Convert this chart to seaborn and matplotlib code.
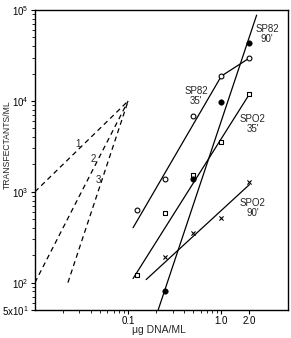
import matplotlib
matplotlib.use("Agg")
import matplotlib.pyplot as plt
import matplotlib.ticker as mticker
import seaborn as sns

# --- DATI ---
# dosi di DNA (ug/ml)
dose = [0.125, 0.25, 0.5, 1.0, 2.0]
dose_90 = [0.25, 0.5, 1.0, 2.0]

# punti sperimentali
sp82_35 = [634, 1390, 6840, 18800, 29700]
sp02_35 = [122, 587, 1540, 3540, 11900]
sp02_90 = [193, 354, 517, 1290]
sp82_90 = [80, 1390, 9750, 43400]

# rette tracciate a mano (estremi)
fit_sp82_35_x = [0.113, 1.0, 2.0]
fit_sp82_35_y = [402, 18800, 29700]
fit_sp02_35_x = [0.113, 2.0]
fit_sp02_35_y = [111, 11900]
fit_sp02_90_x = [0.156, 2.0]
fit_sp02_90_y = [108, 1200]
fit_sp82_90_x = [0.21, 2.39]
fit_sp82_90_y = [50, 88100]

# curve tratteggiate 1, 2, 3
curve1_x = [0.01, 0.1]
curve1_y = [1000, 10000]
curve2_x = [0.01, 0.1]
curve2_y = [100, 10000]
curve3_x = [0.0226, 0.1]
curve3_y = [100, 10000]

# etichette
y_ticks = [50, 100, 1e3, 1e4, 1e5]
y_labels = [r"5x10$^{1}$", r"10$^{2}$", r"10$^{3}$", r"10$^{4}$", r"10$^{5}$"]
x_ticks = [0.1, 1.0, 2.0]
x_labels = ["0.1", "1.0", "2.0"]


def main():
    sns.set_theme(style="ticks")
    plt.rcParams['font.family'] = ['Liberation Sans', 'DejaVu Sans']
    plt.rcParams['mathtext.fontset'] = 'custom'
    plt.rcParams['mathtext.rm'] = 'Liberation Sans'
    plt.rcParams['mathtext.it'] = 'Liberation Sans:italic'

    fig, ax = plt.subplots(figsize=(2.91, 3.38), dpi=100)
    fig.subplots_adjust(left=0.120, right=0.990, top=0.970, bottom=0.083)

    line_kw = dict(color="black", linewidth=0.9, estimator=None, sort=False, ax=ax)

    # tratteggiate
    for cx, cy in [(curve1_x, curve1_y), (curve2_x, curve2_y), (curve3_x, curve3_y)]:
        sns.lineplot(x=cx, y=cy, linestyle=(0, (4, 3)), **line_kw)

    # rette
    for fx, fy in [(fit_sp82_35_x, fit_sp82_35_y), (fit_sp02_35_x, fit_sp02_35_y),
                   (fit_sp02_90_x, fit_sp02_90_y), (fit_sp82_90_x, fit_sp82_90_y)]:
        sns.lineplot(x=fx, y=fy, **line_kw)

    # punti
    sns.scatterplot(x=dose, y=sp82_35, marker="o", s=12, facecolor="white",
                    edgecolor="black", linewidth=0.8, zorder=5, ax=ax)
    sns.scatterplot(x=dose, y=sp02_35, marker="s", s=10, facecolor="white",
                    edgecolor="black", linewidth=0.8, zorder=5, ax=ax)
    sns.scatterplot(x=dose_90, y=sp82_90, marker="o", s=16, color="black",
                    edgecolor="black", zorder=5, ax=ax)
    sns.scatterplot(x=dose_90, y=sp02_90, marker="x", s=9, color="black",
                    linewidth=0.8, zorder=5, ax=ax)

    ax.set_xscale("log")
    ax.set_yscale("log")
    ax.set_xlim(0.01, 5.2)
    ax.set_ylim(50, 1e5)

    ax.set_yticks(y_ticks)
    ax.set_yticklabels(y_labels)
    ax.yaxis.set_minor_locator(mticker.LogLocator(base=10, subs=range(2, 10), numticks=20))
    ax.yaxis.set_minor_formatter(mticker.NullFormatter())

    ax.set_xticks(x_ticks)
    ax.set_xticklabels(x_labels)
    ax.set_xticks([0.02, 0.03, 0.04, 0.05, 0.06, 0.07, 0.08, 0.09,
                   0.2, 0.3, 0.4, 0.5, 0.6, 0.7, 0.8, 0.9], minor=True)
    ax.xaxis.set_minor_formatter(mticker.NullFormatter())

    ax.tick_params(which="major", direction="out", length=3, width=0.8,
                   labelsize=7, pad=1.5, colors="black")
    ax.tick_params(axis="x", which="major", pad=1)
    ax.tick_params(which="minor", direction="out", length=2, width=0.7)
    for sp in ax.spines.values():
        sp.set_linewidth(1.0)
        sp.set_color("black")

    ax.set_xlabel("\u03bcg DNA/ML", fontsize=7.5)
    ax.xaxis.set_label_coords(0.49, -0.05)
    ax.set_ylabel("TRANSFECTANTS/ML", fontsize=6.2)
    ax.yaxis.set_label_coords(-0.11, 0.55)
    ax.yaxis.label.set_va("center")

    # testi
    txt = dict(fontsize=7, ha="center", va="center", linespacing=1.0)
    ax.text(3.1, 54500, "SP82\n90'", **txt)
    ax.text(0.54, 11300, "SP82\n35'", **txt)
    ax.text(2.16, 5580, "SPO2\n35'", **txt)
    ax.text(2.16, 667, "SPO2\n90'", **txt)
    ax.text(0.029, 3370, "1", fontsize=7, ha="center", va="center")
    ax.text(0.042, 2310, "2", fontsize=7, ha="center", va="center")
    ax.text(0.0476, 1360, "3", fontsize=7, ha="center", va="center")

    plt.savefig("out.png", dpi=100)


if __name__ == "__main__":
    main()
